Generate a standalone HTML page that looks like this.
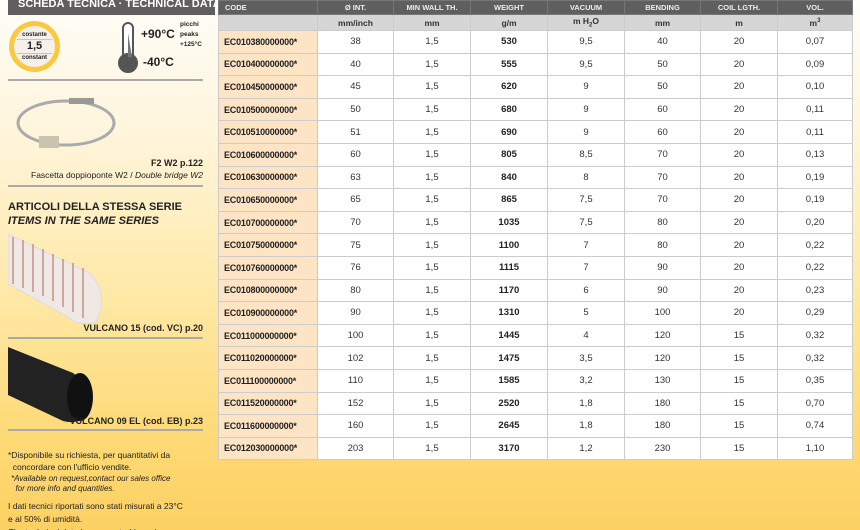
<!DOCTYPE html>
<html><head><meta charset="utf-8"><style>
*{margin:0;padding:0;box-sizing:border-box}
html,body{width:860px;height:530px;overflow:hidden}
body{position:relative;font-family:"Liberation Sans",sans-serif;color:#222;
background:linear-gradient(180deg,#fffdf8 0%,#fff5dc 25%,#ffe9a8 55%,#fedb7a 80%,#fdd062 100%);}
.abs{position:absolute;white-space:nowrap}
.bar{left:8px;top:0;width:207px;height:15px;background:#5f5f5f;color:#fff;font-weight:bold;font-size:11px;line-height:9px;padding-left:10px;overflow:hidden}
.hr{position:absolute;left:8px;width:195px;height:2px;background:#aaa}
table{position:absolute;left:218px;top:0;border-collapse:collapse;font-size:9.5px;table-layout:fixed;width:634px}
td{border:1px solid #ccc;text-align:center;height:22.6px;background:#fff;color:#333;white-space:nowrap;overflow:hidden}
tr.h td{background:#5f5f5f;color:#eee;font-weight:bold;font-size:7.5px;height:14px;border-color:#777}
tr.s td{background:#d6d6d6;font-weight:bold;font-size:8.5px;height:16px}
td.c{background:#fde4c4;text-align:left;padding-left:5px;font-weight:bold;font-size:9px;color:#222;letter-spacing:-.2px}
td.b{font-weight:bold;color:#222}
.t{font-size:9.5px;color:#222}
</style></head><body>
<div class="abs bar">SCHEDA TECNICA · TECHNICAL DATA</div>
<div class="abs" style="left:9px;top:21px;width:51px;height:51px;border-radius:50%;background:#fbc840"></div>
<div class="abs" style="left:14px;top:26px;width:41px;height:41px;border-radius:50%;background:#f5f1ea;text-align:center;font-size:6px;font-weight:bold;line-height:8px;padding-top:5px">costante<div style="font-size:11px;line-height:13px;border-top:1px solid #f5c060;border-bottom:1px solid #f5c060;margin:0 3px">1,5</div>constant</div>
<svg class="abs" style="left:116px;top:21px" width="28" height="54"><rect x="7" y="2" width="10" height="36" rx="5" fill="#fff" stroke="#555" stroke-width="2"/><circle cx="12" cy="42" r="9" fill="#555" stroke="#555" stroke-width="2"/><path d="M12 12 L16 36 L12 36Z" fill="#777"/></svg>
<div class="abs" style="left:141px;top:27px;font-weight:bold;font-size:12px">+90°C</div>
<div class="abs" style="left:143px;top:55px;font-weight:bold;font-size:12px">-40°C</div>
<div class="abs" style="left:180px;top:20px;font-weight:bold;font-size:6.5px;line-height:10px">picchi<br>peaks<br>+125°C</div>
<div class="hr" style="top:79px"></div>
<svg class="abs" style="left:14px;top:88px" width="105" height="70"><ellipse cx="52" cy="35" rx="48" ry="22" fill="none" stroke="#aaa" stroke-width="3"/><rect x="55" y="10" width="25" height="6" fill="#999"/><rect x="25" y="48" width="20" height="12" fill="#c9c3b0"/></svg>
<div class="abs t" style="right:657px;top:158px;font-weight:bold;font-size:9px">F2 W2 p.122</div>
<div class="abs t" style="right:657px;top:170px;font-size:8.5px">Fascetta doppioponte W2 / <i>Double bridge W2</i></div>
<div class="hr" style="top:185px"></div>
<div class="abs" style="left:8px;top:200px;font-weight:bold;font-size:11px;line-height:14px">ARTICOLI DELLA STESSA SERIE<br><i>ITEMS IN THE SAME SERIES</i></div>
<svg class="abs" style="left:8px;top:232px" width="105" height="95"><path d="M0 2 L80 40 Q102 60 88 90 Q70 95 60 85 L0 52Z" fill="#efe8e4" stroke="#ddd"/><g stroke="#b07060" stroke-width="1.5" opacity=".7"><path d="M5 5 L5 52M15 8L15 56M25 12L25 60M35 17L35 64M45 22L45 69M55 27L55 75M65 31L65 80M75 36L75 86"/></g></svg>
<div class="abs t" style="right:657px;top:323px;font-weight:bold;font-size:9px">VULCANO 15 (cod. VC) p.20</div>
<div class="hr" style="top:337px"></div>
<svg class="abs" style="left:8px;top:345px" width="90" height="80"><path d="M0 2 L65 28 Q90 45 80 70 Q70 80 55 76 L0 50Z" fill="#222"/><ellipse cx="72" cy="52" rx="13" ry="24" fill="#111"/></svg>
<div class="abs t" style="right:657px;top:416px;font-weight:bold;font-size:9px">VULCANO 09 EL (cod. EB) p.23</div>
<div class="hr" style="top:429px"></div>
<div class="abs" style="left:8px;top:449px;font-size:8.5px;line-height:12px">*Disponibile su richiesta, per quantitativi da<br>&nbsp;&nbsp;concordare con l'ufficio vendite.</div>
<div class="abs" style="left:11px;top:474px;font-size:8px;line-height:10px;font-style:italic">*Available on request,contact our sales office<br>&nbsp;&nbsp;for more info and quantities.</div>
<div class="abs" style="left:8px;top:500px;font-size:8.5px;line-height:13px">I dati tecnici riportati sono stati misurati a 23°C<br>e al 50% di umidità.<br><i>The technical data here reported have been</i></div>
<table>
<colgroup><col style="width:99px"><col style="width:76px"><col style="width:77px"><col style="width:77px"><col style="width:77px"><col style="width:76px"><col style="width:77px"><col style="width:75px"></colgroup>
<tr class="h"><td style="text-align:left;padding-left:6px">CODE</td><td>Ø INT.</td><td>MIN WALL TH.</td><td>WEIGHT</td><td>VACUUM</td><td>BENDING</td><td>COIL LGTH.</td><td>VOL.</td></tr>
<tr class="s"><td></td><td>mm/inch</td><td>mm</td><td>g/m</td><td>m H<sub style="font-size:6px">2</sub>O</td><td>mm</td><td>m</td><td>m<sup style="font-size:6px">3</sup></td></tr>
<tr><td class="c">EC010380000000*</td><td>38</td><td>1,5</td><td class="b">530</td><td>9,5</td><td>40</td><td>20</td><td>0,07</td></tr>
<tr><td class="c">EC010400000000*</td><td>40</td><td>1,5</td><td class="b">555</td><td>9,5</td><td>50</td><td>20</td><td>0,09</td></tr>
<tr><td class="c">EC010450000000*</td><td>45</td><td>1,5</td><td class="b">620</td><td>9</td><td>50</td><td>20</td><td>0,10</td></tr>
<tr><td class="c">EC010500000000*</td><td>50</td><td>1,5</td><td class="b">680</td><td>9</td><td>60</td><td>20</td><td>0,11</td></tr>
<tr><td class="c">EC010510000000*</td><td>51</td><td>1,5</td><td class="b">690</td><td>9</td><td>60</td><td>20</td><td>0,11</td></tr>
<tr><td class="c">EC010600000000*</td><td>60</td><td>1,5</td><td class="b">805</td><td>8,5</td><td>70</td><td>20</td><td>0,13</td></tr>
<tr><td class="c">EC010630000000*</td><td>63</td><td>1,5</td><td class="b">840</td><td>8</td><td>70</td><td>20</td><td>0,19</td></tr>
<tr><td class="c">EC010650000000*</td><td>65</td><td>1,5</td><td class="b">865</td><td>7,5</td><td>70</td><td>20</td><td>0,19</td></tr>
<tr><td class="c">EC010700000000*</td><td>70</td><td>1,5</td><td class="b">1035</td><td>7,5</td><td>80</td><td>20</td><td>0,20</td></tr>
<tr><td class="c">EC010750000000*</td><td>75</td><td>1,5</td><td class="b">1100</td><td>7</td><td>80</td><td>20</td><td>0,22</td></tr>
<tr><td class="c">EC010760000000*</td><td>76</td><td>1,5</td><td class="b">1115</td><td>7</td><td>90</td><td>20</td><td>0,22</td></tr>
<tr><td class="c">EC010800000000*</td><td>80</td><td>1,5</td><td class="b">1170</td><td>6</td><td>90</td><td>20</td><td>0,23</td></tr>
<tr><td class="c">EC010900000000*</td><td>90</td><td>1,5</td><td class="b">1310</td><td>5</td><td>100</td><td>20</td><td>0,29</td></tr>
<tr><td class="c">EC011000000000*</td><td>100</td><td>1,5</td><td class="b">1445</td><td>4</td><td>120</td><td>15</td><td>0,32</td></tr>
<tr><td class="c">EC011020000000*</td><td>102</td><td>1,5</td><td class="b">1475</td><td>3,5</td><td>120</td><td>15</td><td>0,32</td></tr>
<tr><td class="c">EC011100000000*</td><td>110</td><td>1,5</td><td class="b">1585</td><td>3,2</td><td>130</td><td>15</td><td>0,35</td></tr>
<tr><td class="c">EC011520000000*</td><td>152</td><td>1,5</td><td class="b">2520</td><td>1,8</td><td>180</td><td>15</td><td>0,70</td></tr>
<tr><td class="c">EC011600000000*</td><td>160</td><td>1,5</td><td class="b">2645</td><td>1,8</td><td>180</td><td>15</td><td>0,74</td></tr>
<tr><td class="c">EC012030000000*</td><td>203</td><td>1,5</td><td class="b">3170</td><td>1,2</td><td>230</td><td>15</td><td>1,10</td></tr>
</table>
</body></html>
